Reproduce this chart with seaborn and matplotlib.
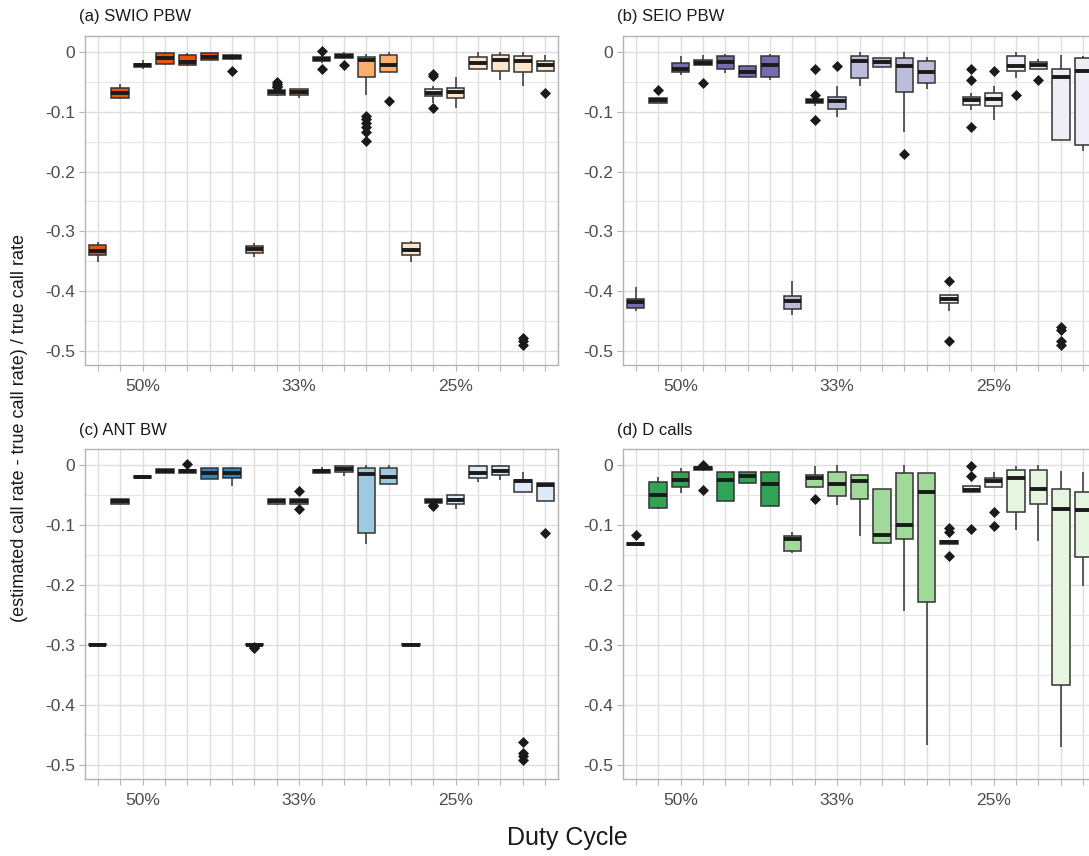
import numpy as np
import pandas as pd
import matplotlib
matplotlib.use("Agg")
import matplotlib.pyplot as plt
from matplotlib.ticker import MultipleLocator
import seaborn as sns

# ---------------------------------------------------------------------------
# Data: relative call-rate error per detector setting, grouped by duty cycle
# Each box: (lower whisker, Q1, median, Q3, upper whisker)
# ---------------------------------------------------------------------------
duty_cycles = ["50%", "33%", "25%"]
boxes_per_cycle = 7
n_boxes = len(duty_cycles) * boxes_per_cycle
label_slot = 2  # slot within each duty-cycle group that carries its label

swio_stats = [
    (-0.351, -0.339, -0.333, -0.323, -0.318),
    (-0.079, -0.077, -0.069, -0.060, -0.054),
    (-0.029, -0.025, -0.022, -0.020, -0.013),
    (-0.022, -0.020, -0.010, -0.002, 0.001),
    (-0.023, -0.021, -0.016, -0.004, -0.002),
    (-0.014, -0.013, -0.008, -0.002, -0.001),
    (-0.014, -0.012, -0.008, -0.005, -0.003),
    (-0.343, -0.336, -0.329, -0.324, -0.319),
    (-0.073, -0.071, -0.067, -0.064, -0.062),
    (-0.076, -0.071, -0.066, -0.062, -0.061),
    (-0.019, -0.015, -0.012, -0.009, -0.004),
    (-0.011, -0.010, -0.006, -0.003, 0.000),
    (-0.071, -0.042, -0.013, -0.009, -0.003),
    (-0.034, -0.034, -0.021, -0.004, 0.000),
    (-0.351, -0.339, -0.332, -0.320, -0.316),
    (-0.086, -0.073, -0.068, -0.062, -0.056),
    (-0.093, -0.076, -0.066, -0.060, -0.041),
    (-0.029, -0.029, -0.018, -0.009, 0.000),
    (-0.047, -0.032, -0.013, -0.004, 0.000),
    (-0.057, -0.034, -0.015, -0.007, 0.000),
    (-0.032, -0.032, -0.022, -0.015, -0.004),
]
swio_outliers = {
    6: [-0.031],
    8: [-0.050, -0.053, -0.056, -0.059],
    10: [0.002, -0.029],
    11: [-0.021],
    12: [-0.107, -0.112, -0.119, -0.125, -0.134, -0.149],
    13: [-0.082],
    15: [-0.036, -0.040, -0.094],
    19: [-0.478, -0.484, -0.490],
    20: [-0.069],
}

seio_stats = [
    (-0.433, -0.428, -0.419, -0.413, -0.393),
    (-0.085, -0.085, -0.081, -0.077, -0.077),
    (-0.039, -0.034, -0.029, -0.019, -0.007),
    (-0.022, -0.022, -0.018, -0.013, -0.004),
    (-0.035, -0.028, -0.017, -0.007, -0.003),
    (-0.042, -0.042, -0.033, -0.024, -0.024),
    (-0.047, -0.042, -0.021, -0.007, -0.003),
    (-0.441, -0.431, -0.417, -0.408, -0.383),
    (-0.091, -0.086, -0.082, -0.079, -0.075),
    (-0.108, -0.096, -0.082, -0.075, -0.057),
    (-0.057, -0.044, -0.015, -0.007, 0.000),
    (-0.025, -0.025, -0.017, -0.010, -0.010),
    (-0.133, -0.066, -0.024, -0.010, 0.000),
    (-0.061, -0.051, -0.034, -0.015, -0.009),
    (-0.433, -0.421, -0.413, -0.406, -0.406),
    (-0.097, -0.088, -0.081, -0.075, -0.069),
    (-0.114, -0.091, -0.078, -0.069, -0.056),
    (-0.044, -0.032, -0.023, -0.007, 0.000),
    (-0.029, -0.029, -0.022, -0.017, -0.012),
    (-0.147, -0.147, -0.041, -0.029, -0.004),
    (-0.165, -0.156, -0.032, -0.010, -0.006),
]
seio_outliers = {
    1: [-0.064],
    3: [-0.052],
    8: [-0.029, -0.071, -0.113],
    9: [-0.023],
    12: [-0.171],
    14: [-0.383, -0.484],
    15: [-0.028, -0.047, -0.125],
    16: [-0.031],
    17: [-0.071],
    18: [-0.047],
    19: [-0.460, -0.465, -0.483, -0.490],
}

ant_stats = [
    (-0.301, -0.301, -0.300, -0.299, -0.299),
    (-0.064, -0.064, -0.060, -0.057, -0.057),
    (-0.022, -0.022, -0.020, -0.018, -0.018),
    (-0.013, -0.013, -0.010, -0.006, -0.006),
    (-0.013, -0.013, -0.010, -0.008, -0.004),
    (-0.023, -0.023, -0.013, -0.005, -0.005),
    (-0.034, -0.021, -0.013, -0.005, -0.003),
    (-0.301, -0.301, -0.300, -0.299, -0.299),
    (-0.066, -0.064, -0.060, -0.057, -0.057),
    (-0.065, -0.065, -0.060, -0.056, -0.056),
    (-0.013, -0.013, -0.010, -0.008, -0.003),
    (-0.018, -0.011, -0.007, -0.001, -0.001),
    (-0.132, -0.114, -0.015, -0.005, 0.000),
    (-0.031, -0.031, -0.020, -0.005, 0.000),
    (-0.301, -0.301, -0.300, -0.299, -0.297),
    (-0.063, -0.063, -0.059, -0.056, -0.056),
    (-0.074, -0.064, -0.058, -0.050, -0.048),
    (-0.028, -0.021, -0.013, -0.002, 0.000),
    (-0.025, -0.016, -0.009, -0.002, 0.000),
    (-0.044, -0.044, -0.027, -0.025, -0.012),
    (-0.059, -0.059, -0.033, -0.030, -0.030),
]
ant_outliers = {
    4: [0.002],
    7: [-0.303, -0.306],
    9: [-0.043, -0.074],
    15: [-0.066, -0.068],
    19: [-0.462, -0.481, -0.486, -0.492],
    20: [-0.113],
}

dcall_stats = [
    (-0.133, -0.133, -0.131, -0.130, -0.130),
    (-0.074, -0.071, -0.049, -0.028, -0.019),
    (-0.046, -0.037, -0.025, -0.011, -0.005),
    (-0.008, -0.008, -0.005, -0.003, -0.003),
    (-0.060, -0.060, -0.025, -0.012, -0.012),
    (-0.029, -0.029, -0.018, -0.012, -0.012),
    (-0.069, -0.069, -0.032, -0.011, -0.011),
    (-0.147, -0.143, -0.123, -0.118, -0.111),
    (-0.036, -0.036, -0.021, -0.017, -0.002),
    (-0.067, -0.051, -0.031, -0.012, 0.000),
    (-0.118, -0.057, -0.027, -0.017, -0.016),
    (-0.130, -0.130, -0.117, -0.040, -0.040),
    (-0.244, -0.124, -0.100, -0.013, 0.000),
    (-0.468, -0.228, -0.045, -0.013, -0.013),
    (-0.131, -0.131, -0.128, -0.126, -0.126),
    (-0.045, -0.045, -0.041, -0.034, -0.034),
    (-0.037, -0.037, -0.027, -0.022, -0.012),
    (-0.108, -0.078, -0.022, -0.008, -0.002),
    (-0.127, -0.064, -0.039, -0.008, 0.000),
    (-0.471, -0.367, -0.074, -0.040, -0.009),
    (-0.202, -0.154, -0.075, -0.044, -0.012),
]
dcall_outliers = {
    0: [-0.116],
    3: [0.001, -0.041],
    8: [-0.057],
    14: [-0.105, -0.112, -0.152],
    15: [-0.001, -0.018, -0.106],
    16: [-0.078, -0.102],
}

# Brewer 3-class sequential palettes, darkest for the 50% duty cycle
oranges = ["#e6550d", "#fdae6b", "#fee6ce"]
purples = ["#756bb1", "#bcbddc", "#efedf5"]
blues = ["#3182bd", "#9ecae1", "#deebf7"]
greens = ["#31a354", "#a1d99b", "#e5f5e0"]

panels = [
    ("(a) SWIO PBW", swio_stats, swio_outliers, oranges),
    ("(b) SEIO PBW", seio_stats, seio_outliers, purples),
    ("(c) ANT BW", ant_stats, ant_outliers, blues),
    ("(d) D calls", dcall_stats, dcall_outliers, greens),
]

y_ticks = [0.0, -0.1, -0.2, -0.3, -0.4, -0.5]
y_tick_labels = ["0", "-0.1", "-0.2", "-0.3", "-0.4", "-0.5"]


def box_frame(stats):
    """Long table whose quartiles and extremes reproduce each five-number summary."""
    rows = []
    block = 20
    for pos, (lo, q1, med, q3, hi) in enumerate(stats):
        cycle = duty_cycles[pos // boxes_per_cycle]
        values = [lo] + [q1] * block + [med] * block + [q3] * block + [hi]
        rows += [(pos, cycle, v) for v in values]
    return pd.DataFrame(rows, columns=["pos", "cycle", "value"])


def outlier_frame(outliers):
    rows = [(pos, v) for pos, vals in outliers.items() for v in vals]
    return pd.DataFrame(rows, columns=["pos", "value"])


# ---------------------------------------------------------------------------
sns.set_theme(style="white")
plt.rcParams["font.family"] = ["Liberation Sans", "DejaVu Sans"]
plt.rcParams["axes.unicode_minus"] = False

W, H = 1089, 856
fig = plt.figure(figsize=(W / 100, H / 100), dpi=100)

# axes rectangles in pixels: (left, top, right, bottom)
rects = [
    (85, 36, 558, 365),
    (623, 36, 1096, 365),
    (85, 449, 558, 779),
    (623, 449, 1096, 779),
]

order = list(range(n_boxes))
edge = "#333333"

for (title, stats, outliers, pal), (l, t, r, b) in zip(panels, rects):
    ax = fig.add_axes([l / W, 1 - b / H, (r - l) / W, (b - t) / H])
    ax.set_axisbelow(True)
    df = box_frame(stats)
    sns.boxplot(
        data=df, x="pos", y="value", hue="cycle", order=order,
        hue_order=duty_cycles, palette=dict(zip(duty_cycles, pal)),
        dodge=False, width=0.78, whis=(0, 100), showfliers=False,
        showcaps=False, saturation=1, linecolor=edge, linewidth=1.1,
        medianprops={"color": "#1a1a1a", "linewidth": 2.8},
        legend=False, ax=ax,
    )
    odf = outlier_frame(outliers)
    sns.stripplot(
        data=odf, x="pos", y="value", order=order, jitter=False,
        color="#1a1a1a", marker="D", size=5.6, linewidth=0, ax=ax,
        zorder=5,
    )

    ax.set_xlim(-0.57, n_boxes - 0.43)
    ax.set_ylim(-0.524, 0.027)
    ax.set_xticks(order)
    ax.set_xticklabels([
        duty_cycles[p // boxes_per_cycle] if p % boxes_per_cycle == label_slot else ""
        for p in order
    ])
    ax.set_yticks(y_ticks)
    ax.set_yticklabels(y_tick_labels)
    ax.yaxis.set_minor_locator(MultipleLocator(0.05))

    ax.grid(True, which="major", axis="both", color="#dedede", linewidth=1.0)
    ax.grid(True, which="minor", axis="y", color="#e6e6e6", linewidth=0.8)
    ax.tick_params(axis="both", which="major", length=4, width=0.8,
                   color="#b3b3b3", labelcolor="#4d4d4d", labelsize=12.5,
                   pad=3, bottom=True, left=True)
    ax.tick_params(axis="y", which="minor", length=0)
    ax.tick_params(axis="x", pad=6)
    for sp in ax.spines.values():
        sp.set_color("#b3b3b3")
        sp.set_linewidth(1.0)
    ax.set_xlabel("")
    ax.set_ylabel("")

    fig.text((l - 6) / W, 1 - (t - 19) / H, title, ha="left", va="center",
             fontsize=12, color="#1a1a1a")

fig.text(20 / W, 1 - 428 / H,
         "(estimated call rate - true call rate) / true call rate",
         rotation=90, ha="center", va="center", fontsize=13, color="#1a1a1a")
fig.text(567 / W, 1 - 838 / H, "Duty Cycle", ha="center", va="center",
         fontsize=18, color="#1a1a1a")

fig.savefig("out.png", dpi=100, facecolor="white")
